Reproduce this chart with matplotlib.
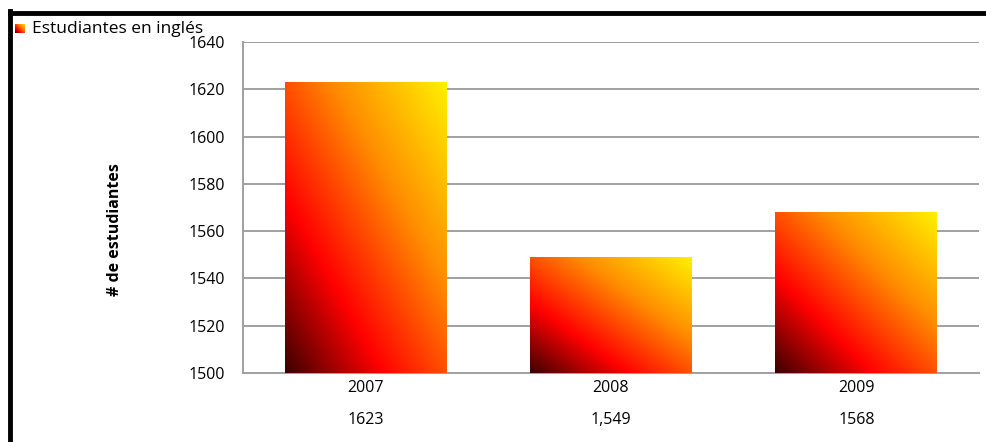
import numpy as np
import matplotlib
matplotlib.use("Agg")
import matplotlib.pyplot as plt
from matplotlib.colors import LinearSegmentedColormap
from matplotlib.lines import Line2D

years = ["2007", "2008", "2009"]
values = [1623, 1549, 1568]
value_labels = ["1623", "1,549", "1568"]
yticks = [1500, 1520, 1540, 1560, 1580, 1600, 1620, 1640]

plt.rcParams['font.family'] = ['Open Sans', 'DejaVu Sans']

cmap = LinearSegmentedColormap.from_list(
    "fire", [(0.0, "#3c0000"), (0.3, "#ff0000"), (0.65, "#ff8c00"), (1.0, "#fff000")])

fig = plt.figure(figsize=(9.87, 4.42), dpi=100)
ax = fig.add_axes([243 / 987, 1 - 373 / 442, (979 - 243) / 987, (373 - 42) / 442])

# diagonal gradient in each bar
u = np.linspace(0, 1, 200)
U, V = np.meshgrid(u, u)
grad = (U + V) / 2
bw = 0.66
for i, v in enumerate(values):
    ax.imshow(grad, cmap=cmap, origin="lower", aspect="auto",
              extent=[i - bw / 2, i + bw / 2, 1500, v], vmin=0, vmax=1, zorder=3)

ax.set_xlim(-0.5, 2.5)
ax.set_ylim(1500, 1640)
ax.set_yticks(yticks)
ax.set_yticklabels([str(t) for t in yticks], fontsize=11.5)
ax.grid(axis="y", color="#a0a0a0", linewidth=1.4, zorder=1)
ax.set_axisbelow(True)
ax.tick_params(length=0, pad=13)
for s in ["top", "right"]:
    ax.spines[s].set_visible(False)
for s in ["left", "bottom"]:
    ax.spines[s].set_color("#a0a0a0")
    ax.spines[s].set_linewidth(1.4)

ax.set_xticks(range(len(years)))
ax.set_xticklabels([])
for i, (y, lab) in enumerate(zip(years, value_labels)):
    ax.text(i, -0.02, y, transform=ax.get_xaxis_transform(), ha="center", va="top", fontsize=11.5)
    ax.text(i, -0.118, lab, transform=ax.get_xaxis_transform(), ha="center", va="top", fontsize=11.5)

fig.text(115 / 987, 1 - 230 / 442, "# de estudiantes", rotation=90, ha="center", va="center",
         fontsize=11.5, fontweight="bold")

# legend
lax = fig.add_axes([15 / 987, 1 - 33 / 442, 10 / 987, 9 / 442])
lax.imshow(grad, cmap=cmap, origin="lower", aspect="auto", vmin=0, vmax=1)
lax.axis("off")
fig.text(32 / 987, 1 - 29 / 442, "Estudiantes en inglés", ha="left", va="center", fontsize=12.5)

# frame
fig.add_artist(Line2D([10 / 987, 1], [1 - 13 / 442, 1 - 13 / 442], color="black", linewidth=3.5,
                      transform=fig.transFigure))
fig.add_artist(Line2D([10 / 987, 10 / 987], [1 - 11 / 442, 0], color="black", linewidth=3.5,
                      transform=fig.transFigure))

fig.savefig("out.png", dpi=100)
